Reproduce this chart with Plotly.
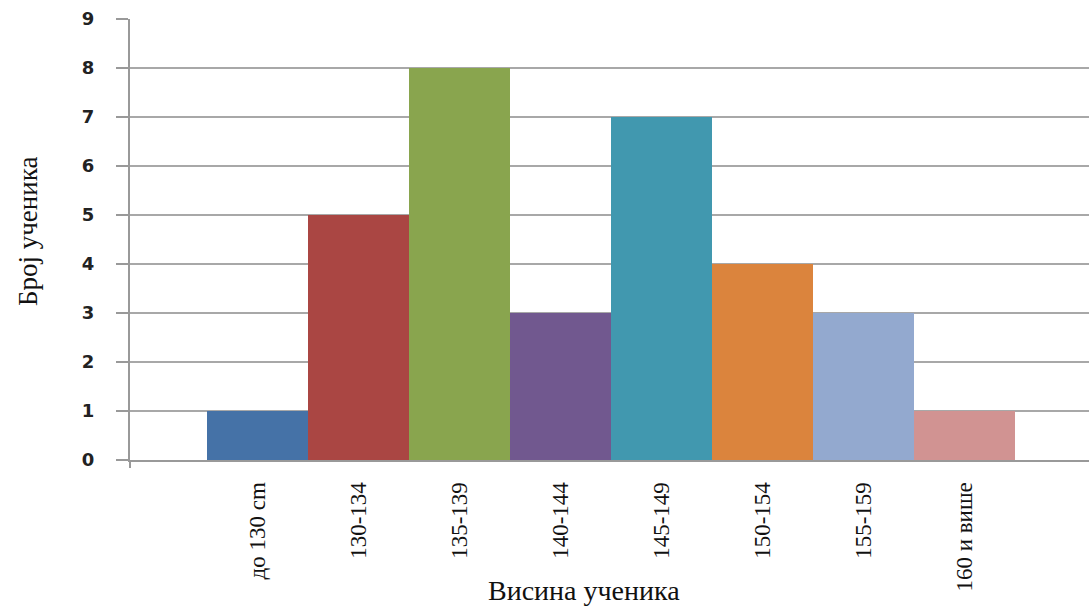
import plotly.graph_objects as go

# Height classes and number of pupils in each
categories = ["до 130 cm", "130-134", "135-139", "140-144",
              "145-149", "150-154", "155-159", "160 и више"]
counts = [1, 5, 8, 3, 7, 4, 3, 1]
bar_colors = ["#4572A7", "#AA4643", "#89A54E", "#71588F",
              "#4198AF", "#DB843D", "#93A9CF", "#D19392"]
y_ticks = list(range(0, 10))

fig = go.Figure(
    go.Bar(
        x=list(range(len(categories))),
        y=counts,
        width=1.0,
        marker=dict(color=bar_colors, line=dict(width=0)),
        hoverinfo="skip",
    )
)

fig.update_layout(
    width=1089,
    height=608,
    margin=dict(l=130, r=0, t=19, b=148),
    paper_bgcolor="white",
    plot_bgcolor="white",
    showlegend=False,
    bargap=0,
    xaxis=dict(
        automargin=False,
        range=[-1.267, 8.228],
        tickmode="array",
        tickvals=list(range(len(categories))),
        ticktext=categories,
        tickangle=-90,
        ticks="",
        ticklabelstandoff=11,
        tickfont=dict(family="Liberation Serif", size=23, color="#111"),
        showgrid=False,
        zeroline=False,
        showline=True,
        linecolor="#999999",
        linewidth=2,
    ),
    yaxis=dict(
        automargin=False,
        range=[0, 9],
        tickvals=y_ticks,
        ticks="outside",
        ticklen=12,
        tickwidth=2,
        tickcolor="#999999",
        ticklabelstandoff=18,
        tickfont=dict(family="DejaVu Sans", size=18, color="#222", weight="bold"),
        showgrid=True,
        gridcolor="#a8a8a8",
        gridwidth=2,
        zeroline=False,
        showline=True,
        linecolor="#999999",
        linewidth=2,
    ),
)

# axis titles
fig.add_annotation(text="Висина ученика", xref="paper", yref="paper",
                   x=(584 - 130) / 959, y=(460 - 590) / 441,
                   showarrow=False, xanchor="center", yanchor="middle",
                   font=dict(family="Liberation Serif", size=28, color="#111"))
fig.add_annotation(text="Број ученика", xref="paper", yref="paper",
                   x=(28 - 130) / 959, y=(460 - 232) / 441,
                   showarrow=False, xanchor="center", yanchor="middle",
                   textangle=-90,
                   font=dict(family="Liberation Serif", size=27, color="#111"))

# left axis line continues a little below the baseline
fig.add_shape(type="line", xref="paper", yref="paper",
              x0=0, x1=0, y0=0, y1=-8 / 441,
              line=dict(color="#999999", width=2))

fig.write_html("out.html")
